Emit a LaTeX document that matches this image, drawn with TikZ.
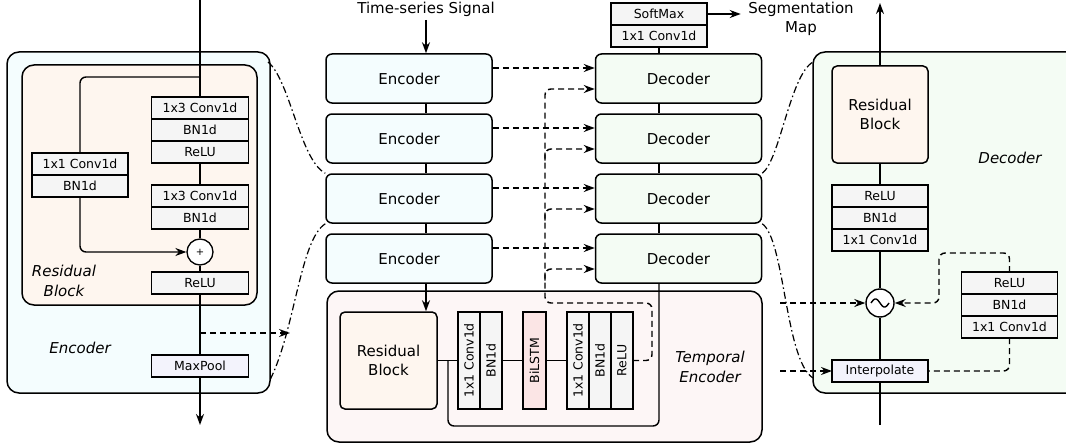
\documentclass[tikz,border=0pt]{standalone}
\usepackage{fontspec}
\setmainfont{DejaVu Sans}
\usetikzlibrary{arrows.meta,positioning}

\definecolor{encbg}{RGB}{244,253,254}
\definecolor{decbg}{RGB}{244,252,244}
\definecolor{resbg}{RGB}{254,246,239}
\definecolor{tempbg}{RGB}{253,246,246}
\definecolor{lstmbg}{RGB}{251,229,229}
\definecolor{layerbg}{RGB}{245,245,245}
\definecolor{poolbg}{RGB}{243,243,252}

\begin{document}
\begin{tikzpicture}[x=1pt,y=-1pt,
panel/.style={draw,line width=1.5pt,rounded corners=12pt},
block/.style={draw,line width=1.5pt,rounded corners=6pt,minimum width=166pt,minimum height=49pt,font=\fontsize{15}{18}\selectfont},
resbox/.style={draw,line width=1.5pt,rounded corners=5pt,fill=resbg,minimum width=97pt,minimum height=97pt,align=center,font=\fontsize{15}{19}\selectfont},
layer/.style={draw,line width=1.3pt,fill=layerbg,minimum width=97pt,minimum height=22pt,inner sep=0pt,outer sep=0pt,font=\fontsize{12.5}{15}\selectfont},
vlayer/.style={layer,rotate=90},
tag/.style={align=center,font=\fontsize{15}{20}\selectfont\itshape},
line/.style={line width=1.4pt},
arrow/.style={-{Stealth[length=11pt,width=8pt]},line width=1.4pt},
skip/.style={arrow,dash pattern=on 6pt off 4pt},
link/.style={line width=1.2pt,dash pattern=on 7pt off 3pt on 1.5pt off 3pt}
]
\useasboundingbox (0,0) rectangle (1066,444);

% panels
\draw[panel,fill=encbg] (7,52) rectangle (270,393);
\draw[panel,fill=resbg] (22,65) rectangle (257,305);
\draw[panel,fill=tempbg] (327,291) rectangle (762,442);
\draw[panel,fill=decbg] (813,52) rectangle (1080,393);

% encoder detail
\node[layer] (ec1) at (200,108) {1x3 Conv1d};
\node[layer,below=0pt of ec1] (eb1) {BN1d};
\node[layer,below=0pt of eb1] (er1) {ReLU};
\node[layer] (ec2) at (200,196) {1x3 Conv1d};
\node[layer,below=0pt of ec2] (eb2) {BN1d};
\node[layer,minimum width=96pt] (sc) at (80,164) {1x1 Conv1d};
\node[layer,minimum width=96pt,below=0pt of sc] (sb) {BN1d};
\node[draw,circle,line width=1.3pt,fill=white,minimum size=26pt,inner sep=0pt,font=\fontsize{10}{12}\selectfont] (add) at (200,252) {+};
\node[layer] (er2) at (200,283) {ReLU};
\node[layer,fill=poolbg] (pool) at (200,366) {MaxPool};
\node[tag] at (64,281) {Residual\\Block};
\node[tag] at (80,348) {Encoder};

\coordinate (ein) at (200,0);
\coordinate (eout) at (200,425);
\coordinate (efork) at (200,77);
\coordinate (eskip) at (200,333);
\coordinate (eskipend) at (290,333);
\draw[line] (ein) -- (ec1);
\draw[line] (er1) -- (ec2);
\draw[line] (eb2) -- (add);
\draw[line] (add) -- (er2);
\draw[line] (er2) -- (pool);
\draw[arrow] (pool) -- (eout);
\draw[line,rounded corners=6pt] (efork) -| (sc);
\draw[arrow,rounded corners=6pt] (sb) |- (add);
\draw[skip] (eskip) -- (eskipend);

% encoder / decoder columns
\node[font=\fontsize{15}{18}\selectfont] (sig) at (426,9) {Time-series Signal};
\node[block,fill=encbg] (enc1) at (409,78.5) {Encoder};
\node[block,fill=encbg,below=9.5pt of enc1] (enc2) {Encoder};
\node[block,fill=encbg,below=9.5pt of enc2] (enc3) {Encoder};
\node[block,fill=encbg,below=9.5pt of enc3] (enc4) {Encoder};
\node[block,fill=decbg] (dec1) at (678.5,78.5) {Decoder};
\node[block,fill=decbg,below=9.5pt of dec1] (dec2) {Decoder};
\node[block,fill=decbg,below=9.5pt of dec2] (dec3) {Decoder};
\node[block,fill=decbg,below=9.5pt of dec3] (dec4) {Decoder};
\node[layer,minimum width=96pt] (soft) at (659,14) {SoftMax};
\node[layer,minimum width=96pt,below=0pt of soft] (oconv) {1x1 Conv1d};
\node[align=center,font=\fontsize{15}{19}\selectfont] (segmap) at (801,19) {Segmentation\\Map};

\draw[arrow] (sig.south) -- (sig.south |- enc1.north);
\foreach \a/\b in {enc1/enc2,enc2/enc3,enc3/enc4}
  \draw[line] ([xshift=17pt]\a.south) -- ([xshift=17pt]\b.north);
\foreach \a/\b in {dec1/dec2,dec2/dec3,dec3/dec4}
  \draw[line] ([xshift=-19.5pt]\a.south) -- ([xshift=-19.5pt]\b.north);
\draw[line] (oconv.south) -- (oconv.south |- dec1.north);
\draw[arrow,shorten >=4pt] (soft.east) -- (soft.east -| segmap.west);
\foreach \i in {1,...,4}
  \draw[skip] ([yshift=10.5pt]enc\i.east) -- ([yshift=10.5pt]dec\i.west);

% temporal encoder
\node[resbox] (tres) at (388.5,360.5) {Residual\\Block};
\node[vlayer] (tc1) at (469,360.5) {1x1 Conv1d};
\node[vlayer] (tb1) at (491,360.5) {BN1d};
\node[vlayer,fill=lstmbg,minimum height=23pt] (tlstm) at (534.5,360.5) {BiLSTM};
\node[vlayer] (tc2) at (578,360.5) {1x1 Conv1d};
\node[vlayer] (tb2) at (600,360.5) {BN1d};
\node[vlayer] (trelu) at (622,360.5) {ReLU};
\node[tag] at (710,367) {Temporal\\Encoder};

\coordinate (tfork) at (448,360.5);
\coordinate (tbot) at (659,426);
\coordinate (tturn) at (652,303);
\coordinate (tbus) at (545,303);
\draw[arrow] ([xshift=17pt]enc4.south) -- ([xshift=17pt]enc4.south |- tres.north);
\draw[line] (tres) -- (tc1);
\draw[line] (tb1) -- (tlstm);
\draw[line] (tlstm) -- (tc2);
\draw[line,rounded corners=6pt] (tfork) |- (tbot) -- ([xshift=-19.5pt]dec4.south);
\draw[skip,rounded corners=6pt] (trelu) -| (tturn) -- (tbus) |- ([yshift=-10.5pt]dec1.west);
\foreach \i in {2,...,4}{
  \coordinate (tjoin\i) at ([yshift=-22pt]dec\i.west);
  \draw[skip,rounded corners=6pt] (tjoin\i -| tbus) |- ([yshift=-10.5pt]dec\i.west);
}

% decoder detail
\node[resbox,minimum width=96pt] (dres) at (880,114.5) {Residual\\Block};
\node[layer,minimum width=96pt] (drelu) at (880,196) {ReLU};
\node[layer,minimum width=96pt,below=0pt of drelu] (dbn) {BN1d};
\node[layer,minimum width=96pt,below=0pt of dbn] (dconv) {1x1 Conv1d};
\node[draw,circle,line width=1.4pt,fill=white,minimum size=28pt,inner sep=0pt] (mix) at (880,303) {};
\node[layer,minimum width=96pt,fill=poolbg] (interp) at (880,371) {Interpolate};
\node[layer,minimum width=96pt] (grelu) at (1009.5,283) {ReLU};
\node[layer,minimum width=96pt,below=0pt of grelu] (gbn) {BN1d};
\node[layer,minimum width=96pt,below=0pt of gbn] (gconv) {1x1 Conv1d};
\node[tag] at (1010,158) {Decoder};

\coordinate (dtop) at (880,3);
\coordinate (dbot) at (880,425);
\coordinate (gloop) at (939,253);
\coordinate (din1) at (780,303);
\coordinate (din2) at (780,371);
\draw[line] (dbot) -- (interp);
\draw[line] (interp) -- (mix);
\draw[line] (mix) -- (dconv);
\draw[line] (drelu) -- (dres);
\draw[arrow] (dres) -- (dtop);
\draw[line,shift={(mix.center)}] plot[domain=-9:9,samples=40,smooth] (\x,{4*sin(20*\x)});
\draw[skip,rounded corners=6pt] (grelu) |- (gloop) |- (mix);
\draw[line,dash pattern=on 6pt off 4pt,rounded corners=6pt] (gconv) |- (interp);
\draw[skip] (din1) -- (mix);
\draw[skip] (din2) -- (interp);

% zoom links
\coordinate (lpanel1) at (268,62);
\coordinate (lpanel2) at (270,380);
\coordinate (rpanel1) at (813,62);
\coordinate (rpanel2) at (813,378);
\draw[link] (lpanel1) .. controls (290,80) and (300,160) .. (enc3.north west);
\draw[link] (enc3.south west) .. controls (300,240) and (295,330) .. (lpanel2);
\draw[link] (dec3.north east) .. controls (780,160) and (790,75) .. (rpanel1);
\draw[link] (dec3.south east) .. controls (785,240) and (785,360) .. (rpanel2);
\end{tikzpicture}
\end{document}
